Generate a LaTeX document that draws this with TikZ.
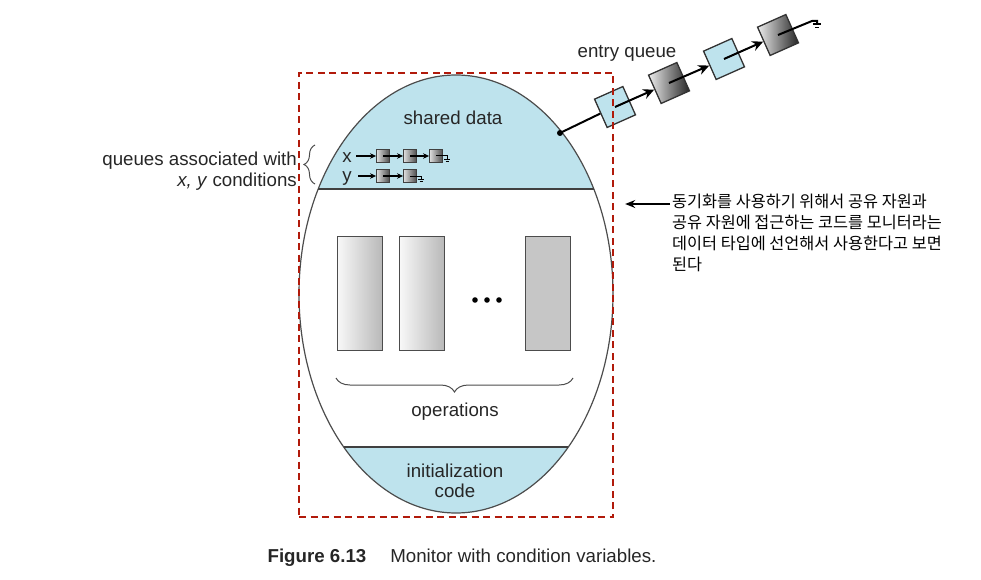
\documentclass[tikz,border=0pt]{standalone}
\usepackage{fontspec}
\setmainfont{Liberation Sans}
\newfontfamily\kofont{Noto Sans CJK KR}
\usepackage{xcolor}
\usetikzlibrary{arrows.meta, positioning, decorations.pathreplacing}
\definecolor{shareblue}{HTML}{BEE3ED}
\definecolor{framered}{HTML}{B11A0B}

\begin{document}
\begin{tikzpicture}[x=1pt, y=-1pt,
    lbl/.style={font=\fontsize{18.7}{20.5}\selectfont, text=black!85, inner sep=0pt},
    kolbl/.style={font=\kofont\fontsize{16.3}{21}\selectfont, text=black, inner sep=0pt},
    qnode/.style={rectangle, draw=black!75, line width=0.9pt, minimum size=13pt, inner sep=0pt, left color=gray!25, right color=black!70},
    entrylight/.style={rectangle, draw=black!80, line width=1.3pt, fill=shareblue, minimum size=31pt, inner sep=0pt, rotate=24},
    entrydark/.style={rectangle, draw=black!80, line width=1.3pt, left color=gray!15, right color=black!85, minimum size=31pt, inner sep=0pt, rotate=24},
    opbox/.style={rectangle, draw=black!70, line width=1pt, minimum width=45pt, minimum height=114pt, inner sep=0pt},
    ptr/.style={line width=1.2pt, -{Stealth[length=6pt, width=5.5pt]}},
    eqptr/.style={line width=2pt, -{Stealth[length=11pt, width=10pt]}},
    brc/.style={black!70, line width=1pt, decorate}]
    \useasboundingbox (0,0) rectangle (981,580);

    % Monitor regions
    \begin{scope}
        \clip (290,60) rectangle (620,189);
        \fill[shareblue] (456,294) ellipse [x radius=157, y radius=219];
    \end{scope}
    \begin{scope}
        \clip (290,447) rectangle (620,520);
        \fill[shareblue] (456,294) ellipse [x radius=157, y radius=219];
    \end{scope}
    \draw[black!70, line width=1.2pt] (456,294) ellipse [x radius=157, y radius=219];
    \draw[black!75, line width=1.4pt] (318,189) -- (594,189);
    \draw[black!75, line width=1.4pt] (344,447) -- (568,447);

    \node [lbl] (sharedlbl) at (453,118) {shared data};
    \node [lbl, align=center] (initlbl) at (455,481) {initialization\\code};

    % Operations
    \node [opbox, left color=gray!5, right color=gray!55] (op1) at (359.5,293) {};
    \node [opbox, left color=gray!5, right color=gray!55] (op2) at (421.5,293) {};
    \node [opbox, fill=gray!45] (op3) at (547.5,293) {};
    \fill (475,300) circle (2.8);
    \fill (487,300) circle (2.8);
    \fill (499,300) circle (2.8);
    \draw [brc, decoration={brace, amplitude=14pt}] (573,378) -- (336,378);
    \node [lbl] (opslbl) at (455,412) {operations};

    % Condition queues
    \node [lbl] (xlbl) at (347,158) {x};
    \node [qnode] (x1) at (383,156) {};
    \node [qnode] (x2) at (410,156) {};
    \node [qnode] (x3) at (436,156) {};
    \coordinate (xstart) at (356,156);
    \coordinate (xnull) at (447,156);
    \draw [ptr] (xstart) -- (x1.west);
    \draw [ptr] (x1.center) -- (x2.west);
    \draw [ptr] (x2.center) -- (x3.west);
    \draw [line width=1pt] (x3.center) -- (xnull) -- ++(0,3);
    \draw [line width=0.8pt] (xnull) ++(-3,3) -- ++(6,0) ++(-4.5,2) -- ++(3,0);

    \node [lbl] (ylbl) at (347,179) {y};
    \node [qnode] (y1) at (383,176) {};
    \node [qnode] (y2) at (410,176) {};
    \coordinate (ystart) at (358,176);
    \coordinate (ynull) at (421,176);
    \draw [ptr] (ystart) -- (y1.west);
    \draw [ptr] (y1.center) -- (y2.west);
    \draw [line width=1pt] (y2.center) -- (ynull) -- ++(0,3);
    \draw [line width=0.8pt] (ynull) ++(-3,3) -- ++(6,0) ++(-4.5,2) -- ++(3,0);

    \draw [brc, decoration={brace, amplitude=11pt}] (315,184) -- (315,145);
    \node [lbl, anchor=east, align=right] (qlbl) at (297,171) {queues associated with\\\textit{x, y} conditions};

    % Entry queue
    \coordinate (eqdot) at (560,133);
    \node [entrylight] (eq1) at (615,107) {};
    \node [entrydark] (eq2) at (669,83) {};
    \node [entrylight] (eq3) at (724,59) {};
    \node [entrydark] (eq4) at (778,35) {};
    \coordinate (eqnull) at (812,21);
    \draw [line width=2pt] (eqdot) -- (eq1.west);
    \fill (eqdot) circle (3);
    \draw [eqptr] (eq1.center) -- (eq2.west);
    \draw [eqptr] (eq2.center) -- (eq3.west);
    \draw [eqptr] (eq3.center) -- (eq4.west);
    \draw [line width=2pt] (eq4.center) -- (eqnull) -- ++(5,0) -- ++(0,3);
    \draw [line width=1.6pt] (eqnull) ++(1,3) -- ++(8,0) ++(-6,3.5) -- ++(4,0);
    \node [lbl] (eqlbl) at (627,53) {entry queue};

    % Monitor frame
    \node [draw=framered, line width=2.4pt, dash pattern=on 7pt off 4.5pt,
        minimum width=314pt, minimum height=444pt, inner sep=0pt] (frame) at (456,295) {};

    % Note
    \node [kolbl, anchor=north west, align=left] (note) at (672,194)
        {동기화를 사용하기 위해서 공유 자원과\\공유 자원에 접근하는 코드를 모니터라는\\데이터 타입에 선언해서 사용한다고 보면\\된다};
    \coordinate (notestart) at (670,204);
    \draw [line width=1.5pt, -{Stealth[length=10pt, width=8pt]}] (notestart) -- (frame.east |- notestart) [shorten >=11pt];

    % Caption
    \node [lbl] (caption) at (462,558) {\textbf{Figure 6.13}\hspace{24pt}Monitor with condition variables.};
\end{tikzpicture}
\end{document}
